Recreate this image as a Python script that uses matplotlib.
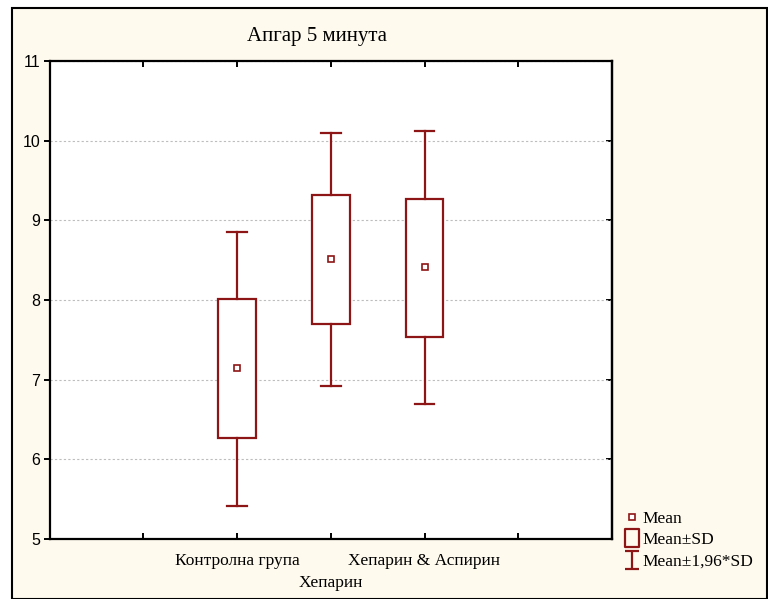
import numpy as np
import matplotlib.pyplot as plt
from matplotlib.patches import Rectangle
from matplotlib.lines import Line2D
from matplotlib.path import Path

# values
groups = ['Контролна група', 'Хепарин', 'Хепарин & Аспирин']
positions = [2, 3, 4]
means = [7.15, 8.51, 8.42]
sd_low = [6.27, 7.70, 7.53]
sd_high = [8.01, 9.32, 9.27]
ci_low = [5.41, 6.92, 6.69]
ci_high = [8.85, 10.10, 10.12]

red = '#8e1515'
cream = '#fffaee'

fig = plt.figure(figsize=(7.68, 5.99), dpi=100, facecolor='white')
# outer cream frame
fig.patches.append(Rectangle((12 / 768, 0.0), 755 / 768, 591 / 599, transform=fig.transFigure,
                             facecolor=cream, edgecolor='black', linewidth=1.5, zorder=-5))

ax = fig.add_axes([49.5 / 768, 1 - 539 / 599, (612 - 49.5) / 768, (539 - 61) / 599])
ax.set_zorder(2)
ax.set_facecolor('white')

box_w = 0.40
cap_w = 0.21
for x, m, lo, hi, wl, wh in zip(positions, means, sd_low, sd_high, ci_low, ci_high):
    ax.add_patch(Rectangle((x - box_w / 2, lo), box_w, hi - lo, facecolor='white',
                           edgecolor=red, linewidth=1.6, zorder=3))
    ax.plot([x, x], [hi, wh], color=red, lw=1.6, zorder=3)
    ax.plot([x, x], [wl, lo], color=red, lw=1.6, zorder=3)
    ax.plot([x - cap_w / 2, x + cap_w / 2], [wh, wh], color=red, lw=1.6, zorder=3)
    ax.plot([x - cap_w / 2, x + cap_w / 2], [wl, wl], color=red, lw=1.6, zorder=3)
    ax.plot(x, m, marker='s', ms=4.5, mfc='white', mec=red, mew=1.2, zorder=4)

ax.set_xlim(0, 6)
ax.set_ylim(5, 11)
ax.set_xticks(range(0, 7))
ax.set_xticklabels([])
ax.set_yticks(range(5, 12))
ax.set_yticklabels([str(v) for v in range(5, 12)], fontfamily='Liberation Sans', fontsize=11.5)
ax.yaxis.grid(True, linestyle=(0, (2, 2)), color='#bdbdbd', linewidth=0.8)
ax.set_axisbelow(True)

for s in ax.spines.values():
    s.set_linewidth(1.6)
ax.tick_params(axis='x', direction='in', top=True, bottom=True, length=4, width=1.4)
ax.tick_params(axis='y', direction='out', left=True, right=False, length=4, width=1.4, pad=2.5)
sec = ax.secondary_yaxis('right')
sec.set_yticks(range(5, 12))
sec.tick_params(direction='in', length=4, width=1.4, labelright=False)
sec.spines['right'].set_linewidth(1.6)

# staggered category labels
for i, (x, name) in enumerate(zip(positions, groups)):
    yoff = -15.5 if i % 2 == 0 else -32
    ax.annotate(name, xy=(x, 5), xytext=(0, yoff), textcoords='offset points',
                ha='center', va='center', fontfamily='Liberation Serif', fontsize=12.5)

fig.text(317 / 768, 1 - 37 / 599, 'Апгар 5 минута', ha='center', va='center',
         fontfamily='Liberation Serif', fontsize=15)

# legend
ibar = Path([(-0.8, 1), (0.8, 1), (0, 1), (0, -1), (-0.8, -1), (0.8, -1)],
            [Path.MOVETO, Path.LINETO, Path.MOVETO, Path.LINETO, Path.MOVETO, Path.LINETO])
rect = Path([(-0.8, -1), (0.8, -1), (0.8, 1), (-0.8, 1), (-0.8, -1)],
            [Path.MOVETO, Path.LINETO, Path.LINETO, Path.LINETO, Path.CLOSEPOLY])
handles = [
    Line2D([], [], ls='none', marker='s', ms=4.5, mfc='white', mec=red, mew=1.2),
    Line2D([], [], ls='none', marker=rect, ms=13, mfc='none', mec=red, mew=1.6),
    Line2D([], [], ls='none', marker=ibar, ms=13, mfc='none', mec=red, mew=1.6),
]
labels = ['Mean', 'Mean±SD', 'Mean±1,96*SD']
leg = fig.legend(handles, labels, loc='upper left', bbox_to_anchor=(616 / 768, 1 - 504 / 599),
                 frameon=False, handlelength=1.0, handletextpad=0.15, labelspacing=0.3,
                 prop={'family': 'Liberation Serif', 'size': 12.5}, borderaxespad=0)

fig.savefig('out.png', dpi=100, facecolor=fig.get_facecolor())
